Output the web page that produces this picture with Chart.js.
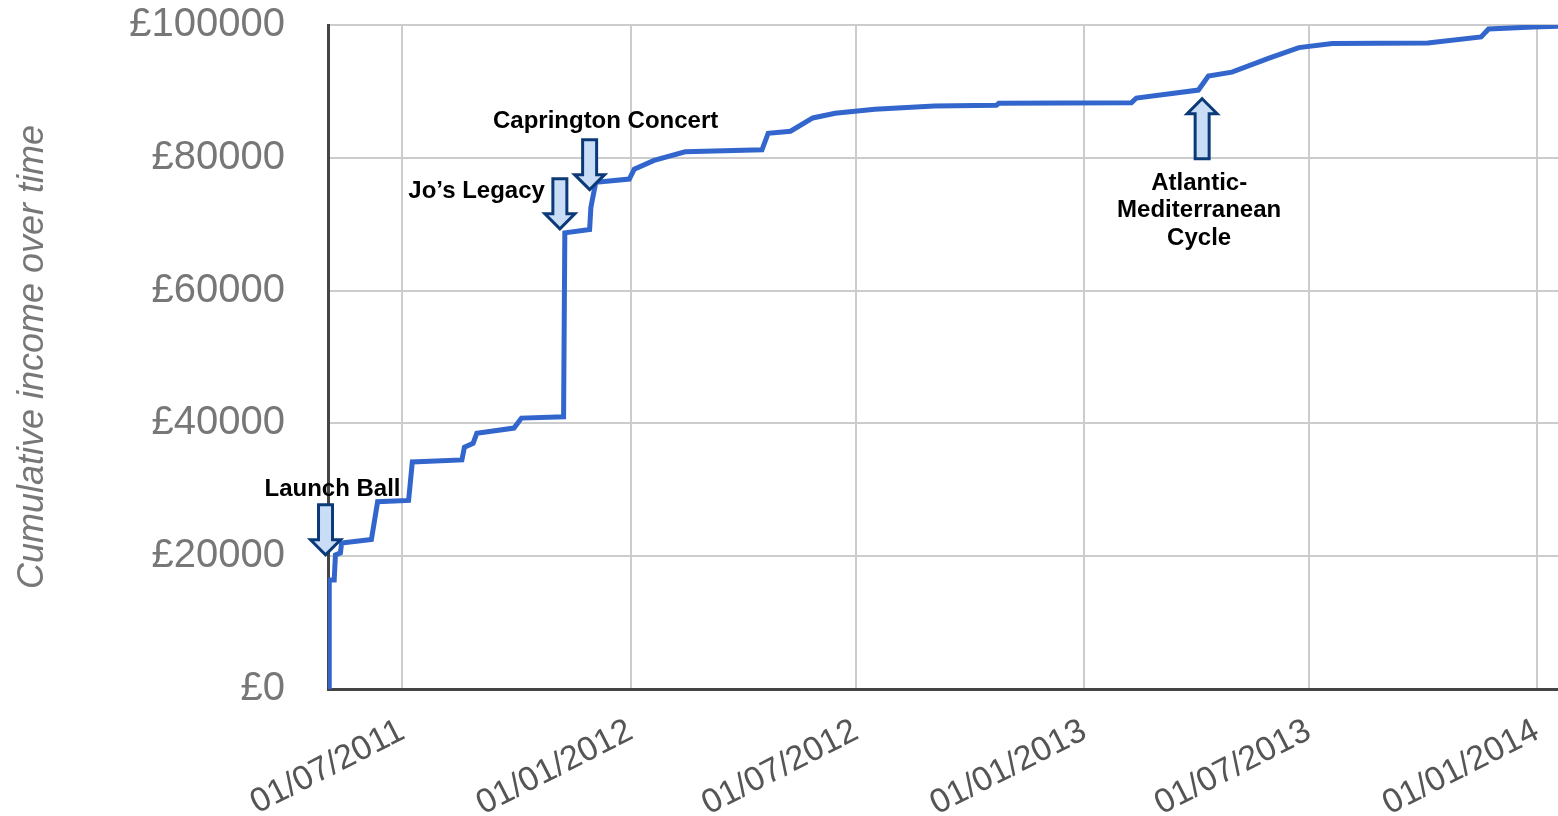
<!DOCTYPE html>
<html>
<head>
<meta charset="utf-8">
<script src="https://cdn.jsdelivr.net/npm/chart.js@4/dist/chart.umd.min.js"></script>
<style>
  html, body { margin: 0; padding: 0; background: #fff; }
  #wrap { width: 1558px; height: 816px; }
</style>
</head>
<body>
<div id="wrap"><canvas id="incomeChart"></canvas></div>
<script>
// cumulative income (date of each step, running total in £)
const dates = [
  '2011-05-03', '2011-05-03', '2011-05-07', '2011-05-08', '2011-05-12', '2011-05-13',
  '2011-06-06', '2011-06-11', '2011-07-06', '2011-07-09', '2011-08-18', '2011-08-20',
  '2011-08-27', '2011-08-30', '2011-09-29', '2011-10-05', '2011-11-08', '2011-11-09',
  '2011-11-29', '2011-11-30', '2011-12-01', '2011-12-04', '2011-12-31', '2012-01-04',
  '2012-01-20', '2012-02-14', '2012-04-16', '2012-04-21', '2012-05-09', '2012-05-27',
  '2012-06-14', '2012-07-16', '2012-09-02', '2012-10-22', '2012-10-24', '2013-02-08',
  '2013-02-12', '2013-04-03', '2013-04-11', '2013-04-30', '2013-05-30', '2013-06-23',
  '2013-07-20', '2013-10-05', '2013-11-17', '2013-11-23', '2013-12-29', '2014-01-18'
];
const income = [
  0, 16400, 16400, 20200, 20500, 22000,
  22500, 28200, 28400, 34200, 34500, 36400,
  37000, 38500, 39300, 40800, 41000, 68700,
  69200, 72500, 73500, 76300, 76800, 78300,
  79600, 80900, 81200, 83700, 84000, 86000,
  86700, 87300, 87800, 87900, 88200, 88300,
  89000, 90200, 92300, 92900, 95000, 96600,
  97200, 97300, 98200, 99400, 99700, 99800
];
const tickDates = ['2011-07-01', '2012-01-01', '2012-07-01', '2013-01-01', '2013-07-01', '2014-01-01'];
const yTicks = [0, 20000, 40000, 60000, 80000, 100000];
const xStart = '2011-05-02';
const xEnd = '2014-01-18';

// events pointed at with arrows
const eventLabels = ['Launch Ball', 'Jo\u2019s Legacy', 'Caprington Concert', 'Atlantic-\nMediterranean\nCycle'];
const eventDates = ['2011-04-30', '2011-11-05', '2011-11-29', '2013-04-06'];
const eventValues = [20200, 69300, 75200, 88900];

// where each arrow/label sits relative to the point it marks
const eventLayout = [
  { dir: 'down', len: 50, dx: 7, dy: -59, align: 'center' },
  { dir: 'down', len: 50, dx: -15, dy: -31, align: 'right' },
  { dir: 'down', len: 50, dx: 16, dy: -62, align: 'center' },
  { dir: 'up', len: 60, dx: -3, dy: 91, align: 'center' }
];

const FONT = '"Liberation Sans", Arial, sans-serif';
Chart.defaults.font.family = FONT;

function toTime(d) {
  const p = d.split('-').map(Number);
  return Date.UTC(p[0], p[1] - 1, p[2]);
}

function fmtDate(v) {
  const d = new Date(v);
  const dd = String(d.getUTCDate()).padStart(2, '0');
  const mm = String(d.getUTCMonth() + 1).padStart(2, '0');
  return dd + '/' + mm + '/' + d.getUTCFullYear();
}

function drawArrow(ctx, x, y, dir, len) {
  const bw = 14, hw = 30, hl = 15;
  const s = dir === 'down' ? -1 : 1; // tail goes up for a down arrow
  ctx.beginPath();
  ctx.moveTo(x, y);
  ctx.lineTo(x + hw / 2, y + s * hl);
  ctx.lineTo(x + bw / 2, y + s * hl);
  ctx.lineTo(x + bw / 2, y + s * len);
  ctx.lineTo(x - bw / 2, y + s * len);
  ctx.lineTo(x - bw / 2, y + s * hl);
  ctx.lineTo(x - hw / 2, y + s * hl);
  ctx.closePath();
  ctx.fillStyle = '#c9ddf7';
  ctx.fill();
  ctx.lineWidth = 3;
  ctx.lineJoin = 'miter';
  ctx.strokeStyle = '#0c3a78';
  ctx.stroke();
}

const eventArrows = {
  id: 'eventArrows',
  afterDatasetsDraw(chart) {
    const { ctx, scales: { x, y } } = chart;
    ctx.save();
    eventLabels.forEach((label, i) => {
      const px = x.getPixelForValue(toTime(eventDates[i]));
      const py = y.getPixelForValue(eventValues[i]);
      const lay = eventLayout[i];
      drawArrow(ctx, px, py, lay.dir, lay.len);
      ctx.font = 'bold 24px ' + FONT;
      ctx.fillStyle = '#000';
      ctx.textAlign = lay.align;
      ctx.textBaseline = 'alphabetic';
      label.split('\n').forEach((line, k) => {
        ctx.fillText(line, px + lay.dx, py + lay.dy + k * 27.5);
      });
    });
    ctx.restore();
  }
};

new Chart(document.getElementById('incomeChart'), {
  type: 'line',
  data: {
    datasets: [{
      data: dates.map((d, i) => ({ x: toTime(d), y: income[i] })),
      borderColor: '#3366cc',
      borderWidth: 5,
      pointRadius: 0,
      tension: 0,
      fill: false
    }]
  },
  options: {
    responsive: true,
    maintainAspectRatio: false,
    animation: false,
    layout: { padding: { top: 25, left: 0, right: 0, bottom: 0 } },
    plugins: {
      legend: { display: false },
      tooltip: { enabled: false }
    },
    scales: {
      x: {
        type: 'linear',
        min: toTime(xStart),
        max: toTime(xEnd),
        afterBuildTicks: s => { s.ticks = tickDates.map(d => ({ value: toTime(d) })); },
        afterFit: s => { s.height = 127; },
        grid: { color: '#cccccc', lineWidth: 2, drawTicks: true, tickLength: 22, tickColor: 'rgba(0,0,0,0)' },
        border: { color: '#444444', width: 3 },
        ticks: {
          minRotation: 27,
          maxRotation: 27,
          padding: 0,
          color: '#555555',
          font: { size: 34 },
          callback: v => fmtDate(v)
        }
      },
      y: {
        min: 0,
        max: 100000,
        afterBuildTicks: s => { s.ticks = yTicks.map(v => ({ value: v })); },
        afterFit: s => { s.width = 328; },
        grid: { color: '#cccccc', lineWidth: 2, drawTicks: true, tickLength: 43, tickColor: 'rgba(0,0,0,0)' },
        border: { color: '#444444', width: 3 },
        ticks: {
          padding: 0,
          color: '#777777',
          font: { size: 40 },
          callback: v => '\u00a3' + v
        },
        title: {
          display: true,
          text: 'Cumulative income over time',
          color: '#777777',
          font: { size: 36, style: 'italic' },
          padding: { top: 11, bottom: 0 }
        }
      }
    }
  },
  plugins: [eventArrows]
});
</script>
</body>
</html>
